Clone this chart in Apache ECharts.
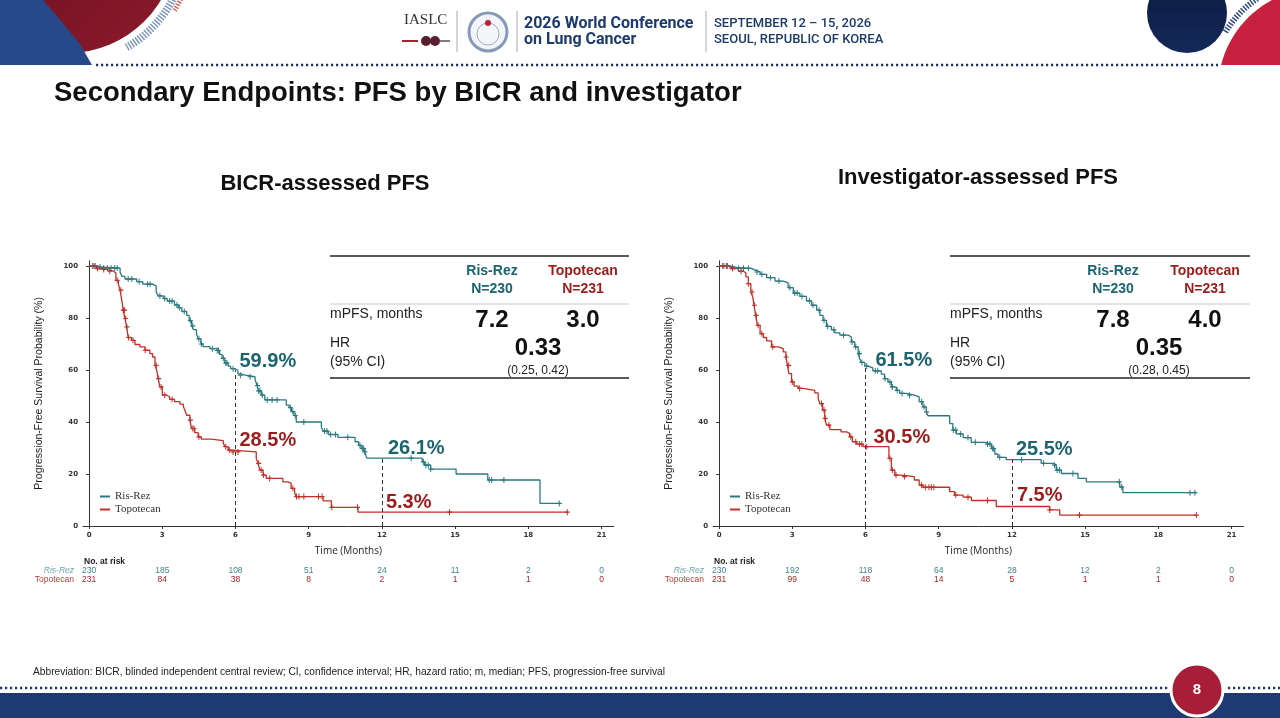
<!DOCTYPE html>
<html>
<head>
<meta charset="utf-8">
<script src="https://cdn.jsdelivr.net/npm/echarts@6/dist/echarts.min.js"></script>
<style>
html, body { margin: 0; padding: 0; background: #fff; }
#main { width: 1280px; height: 718px; }
</style>
</head>
<body>
<div id="main"></div>
<script>
// ---- data ----
var timeTicks = [0, 3, 6, 9, 12, 15, 18, 21];
var survTicks = [0, 20, 40, 60, 80, 100];

// Kaplan-Meier steps [month, PFS %], BICR
var bicrRis = [
  [0, 100], [0.3, 99.6], [0.55, 99.2], [1.27, 97.5], [1.35, 96], [1.47, 95], [1.95, 94], [2.2, 93],
  [2.6, 92.3], [2.75, 90], [2.83, 88.5], [3.05, 87.5], [3.2, 86.5], [3.5, 85], [3.65, 84], [3.8, 82.5],
  [4.0, 81], [4.1, 79], [4.2, 77], [4.28, 75.5], [4.4, 74], [4.47, 72], [4.58, 70], [4.67, 69],
  [4.95, 68.2], [5.2, 67.5], [5.35, 66], [5.45, 64.5], [5.56, 62.7], [5.7, 61.5], [5.8, 60.5], [5.95, 59.9],
  [6.1, 58.5], [6.2, 58], [6.4, 57.4], [6.8, 56.5], [6.88, 54], [6.95, 52], [7.06, 50.3], [7.2, 48.5],
  [8.08, 46.5], [8.2, 45.5], [8.3, 44], [8.4, 42.5], [8.49, 40], [9.52, 38], [9.6, 36.5], [9.8, 35.2],
  [10.2, 34.1], [10.9, 32.4], [11.05, 31], [11.15, 29.8], [11.3, 28.5], [11.38, 26.1], [13.65, 24.7],
  [13.75, 23.4], [14.0, 21.9], [15.04, 20], [16.34, 17.7], [18.48, 8.7], [19.27, 8.7]
];
var bicrTopo = [
  [0, 100], [0.3, 99], [0.5, 98.7], [0.7, 98], [1.0, 97.3], [1.1, 94.5], [1.2, 93], [1.27, 90.7],
  [1.34, 86.8], [1.4, 83], [1.47, 79.8], [1.54, 76.6], [1.6, 72.5], [1.74, 71.4], [1.88, 69.8], [2.08, 68.9],
  [2.29, 67.6], [2.49, 66.3], [2.6, 65], [2.7, 61.8], [2.77, 59.9], [2.83, 56.7], [2.9, 53.5], [3.0, 50.3],
  [3.17, 49.7], [3.3, 48.7], [3.5, 47.8], [3.72, 46.9], [3.86, 46.1], [3.92, 44.6], [4.0, 42.6], [4.13, 40.7],
  [4.2, 37.5], [4.33, 35.9], [4.47, 34.3], [4.6, 33.4], [5.0, 32.8], [5.5, 31.8], [5.57, 30.5], [5.7, 29.2],
  [5.83, 28.5], [6.85, 26], [6.92, 24.1], [7.0, 21.5], [7.13, 19.6], [7.26, 18.3], [7.94, 17], [8.15, 16.4],
  [8.28, 14.5], [8.42, 12.8], [8.49, 11.3], [9.59, 9.7], [9.93, 7.2], [11.02, 5.3], [19.6, 5.3]
];
// investigator
var invRis = [
  [0, 100], [0.4, 99.5], [0.72, 99.1], [1.33, 98.4], [1.47, 97.7], [1.68, 96.8], [1.95, 95.5], [2.29, 94.2],
  [2.63, 93.5], [2.83, 91.7], [3.04, 89.6], [3.31, 88.3], [3.58, 86.6], [3.79, 84.9], [4.0, 83], [4.13, 81],
  [4.26, 79.1], [4.4, 76.8], [4.6, 75.5], [4.74, 74.3], [4.95, 73.4], [5.29, 72.7], [5.42, 70.8], [5.56, 68.9],
  [5.7, 66.3], [5.76, 64.4], [5.83, 62.9], [5.97, 61.5], [6.1, 60.8], [6.3, 59.7], [6.65, 58.4], [6.78, 56.7],
  [6.92, 55.4], [7.06, 53.5], [7.26, 52.2], [7.4, 51], [7.67, 50.3], [8.0, 49.7], [8.2, 47.8], [8.35, 45.8],
  [8.49, 43.9], [8.56, 42.4], [9.45, 39.4], [9.58, 36.9], [9.72, 35.4], [10.0, 34], [10.33, 32.2], [10.9, 31.5],
  [11.16, 29.8], [11.3, 27.7], [11.43, 26.4], [11.77, 25.5], [13.2, 24.1], [13.69, 23.4], [13.82, 21.5],
  [14.03, 20.2], [14.71, 18.3], [15.05, 17], [16.42, 15], [16.55, 12.8], [19.56, 12.8]
];
var invTopo = [
  [0, 100], [0.45, 99], [0.79, 98], [1.0, 97.3], [1.1, 95.8], [1.2, 93.2], [1.3, 90], [1.38, 88.1],
  [1.43, 84.9], [1.5, 81], [1.57, 77.2], [1.68, 74], [1.81, 72.5], [1.95, 71.2], [2.15, 68.9], [2.43, 68.2],
  [2.63, 67], [2.74, 65], [2.8, 61.8], [2.86, 58.6], [2.97, 55.4], [3.07, 53.8], [3.24, 52.9], [3.45, 52.2],
  [3.92, 51.2], [4.06, 49], [4.13, 47.1], [4.24, 44.6], [4.33, 41.4], [4.4, 38.8], [4.54, 37.1], [5.0, 36.2],
  [5.22, 35.6], [5.35, 34.3], [5.46, 32.4], [5.63, 31.5], [5.9, 30.5], [6.96, 26], [7.06, 21.5], [7.2, 19.6],
  [7.47, 19], [8.0, 17.7], [8.2, 15.7], [8.35, 14.9], [9.45, 13.2], [9.65, 11.9], [10.0, 11.1], [10.34, 9.8],
  [11.36, 7.5], [13.55, 6.2], [13.96, 4.2], [19.56, 4.2]
];

// censoring times (months)
var bicrRisCens = [0.15, 0.25, 0.45, 0.6, 0.75, 0.9, 1.05, 1.15, 1.6, 1.75, 2.05, 2.4, 2.5, 2.9, 3.1, 3.3, 3.4,
  3.6, 3.7, 3.9, 4.15, 4.25, 4.5, 4.6, 5.05, 5.25, 5.3, 5.5, 5.6, 5.65, 5.9, 6.2, 6.6, 6.9, 6.95, 7.0, 7.1, 7.3,
  7.5, 7.7, 8.25, 8.35, 8.45, 8.8, 9.65, 9.75, 9.9, 10.1, 10.6, 11.1, 11.2, 11.25, 11.3, 13.2, 13.7, 13.8, 13.9,
  14.0, 16.4, 16.5, 17.0, 19.27];
var bicrTopoCens = [0.2, 0.35, 0.6, 0.85, 1.15, 1.3, 1.4, 1.45, 1.5, 1.55, 1.62, 1.8, 2.3, 2.75, 2.85, 2.95, 3.1,
  3.4, 4.15, 4.25, 4.3, 4.5, 5.6, 5.75, 5.9, 6.1, 6.95, 7.05, 7.15, 7.4, 8.35, 8.5, 8.6, 8.8, 9.4, 9.55, 9.95,
  11.0, 14.77, 19.6];
var invRisCens = [0.2, 0.35, 0.55, 0.8, 1.0, 1.2, 1.55, 1.75, 2.1, 2.45, 2.9, 3.1, 3.2, 3.4, 3.7, 3.85, 4.1, 4.3,
  4.45, 4.7, 5.1, 5.45, 5.6, 5.75, 5.85, 6.05, 6.4, 6.5, 6.8, 7.0, 7.1, 7.3, 7.5, 7.8, 8.3, 8.4, 8.5, 9.6, 9.7,
  9.9, 10.2, 10.5, 11.0, 11.1, 11.2, 11.25, 11.5, 12.4, 13.3, 13.75, 13.85, 13.95, 14.5, 16.4, 16.5, 19.3, 19.5];
var invTopoCens = [0.15, 0.3, 0.55, 0.9, 1.2, 1.35, 1.45, 1.52, 1.6, 1.75, 2.2, 2.75, 2.85, 3.0, 3.3, 4.2, 4.3,
  4.35, 4.5, 5.4, 5.6, 5.75, 5.85, 6.05, 7.0, 7.1, 7.25, 7.6, 8.3, 8.45, 8.6, 8.7, 8.8, 9.7, 10.2, 11.0, 13.55,
  14.77, 19.56];

// landmark rates [month, %]: Ris-Rez at 6, Topotecan at 6, Ris-Rez at 12, Topotecan at 12
var bicrLandmarks = [[6, 59.9], [6, 28.5], [12, 26.1], [12, 5.3]];
var invLandmarks = [[6, 61.5], [6, 30.5], [12, 25.5], [12, 7.5]];

// numbers at risk at timeTicks
var bicrRiskRis = [230, 185, 108, 51, 24, 11, 2, 0];
var bicrRiskTopo = [231, 84, 38, 8, 2, 1, 1, 0];
var invRiskRis = [230, 192, 118, 64, 28, 12, 2, 0];
var invRiskTopo = [231, 99, 48, 14, 5, 1, 1, 0];

var armNames = ['Ris-Rez', 'Topotecan'];
var armN = ['N=230', 'N=231'];
var mpfs = [['7.2', '3.0'], ['7.8', '4.0']];
var hr = ['0.33', '0.35'];
var hrCi = ['(0.25, 0.42)', '(0.28, 0.45)'];
var panelTitles = ['BICR-assessed PFS', 'Investigator-assessed PFS'];

// ---- styles ----
var TEAL = '#2b7a80', TEAL_TXT = '#1b6470', RED = '#c23028', RED_TXT = '#9e1b1b', NAVY = '#1d3a6e';
var SANS = 'Liberation Sans, Arial, sans-serif';
var NARROW = 'Liberation Sans Narrow, Liberation Sans, sans-serif';
var labelOffsets = [[[4, -9], [4, -11], [6, -10], [4, -10]], [[10, -6], [8, -9], [4, -10], [5, -11]]];
var gridLefts = [83, 713];

function stepAt(curve, t) {
  var v = curve[0][1];
  for (var i = 0; i < curve.length; i++) { if (curve[i][0] <= t) v = curve[i][1]; }
  return v;
}
function censorPoints(curve, times) {
  return times.map(function (t) { return [t, stepAt(curve, t)]; });
}

var chart = echarts.init(document.getElementById('main'));

var plusPath = 'path://M4,0h2v4h4v2h-4v4h-2v-4h-4v-2h4z';
var series = [];
var panels = [
  { ris: bicrRis, topo: bicrTopo, rc: bicrRisCens, tc: bicrTopoCens, lm: bicrLandmarks },
  { ris: invRis, topo: invTopo, rc: invRisCens, tc: invTopoCens, lm: invLandmarks }
];
panels.forEach(function (p, g) {
  var lineDefs = [[armNames[0], p.ris, TEAL], [armNames[1], p.topo, RED]];
  lineDefs.forEach(function (d, k) {
    var s = {
      name: d[0], type: 'line', step: 'end', xAxisIndex: g, yAxisIndex: g,
      data: d[1], symbol: 'none', lineStyle: { color: d[2], width: 1.3 }, itemStyle: { color: d[2] },
      z: 3
    };
    if (k === 0) {
      s.markLine = {
        silent: true, symbol: ['none', 'none'], animation: false,
        lineStyle: { color: '#333', width: 1, type: [4, 3] }, label: { show: false },
        data: [[{ coord: [p.lm[0][0], 0] }, { coord: p.lm[0] }], [{ coord: [p.lm[2][0], 0] }, { coord: p.lm[2] }]]
      };
    }
    series.push(s);
  });
  series.push({
    name: 'cens-ris-' + g, type: 'scatter', xAxisIndex: g, yAxisIndex: g, symbol: plusPath, symbolSize: [5, 6],
    data: censorPoints(p.ris, p.rc), itemStyle: { color: TEAL, opacity: 1 }, z: 4, silent: true
  });
  series.push({
    name: 'cens-topo-' + g, type: 'scatter', xAxisIndex: g, yAxisIndex: g, symbol: plusPath, symbolSize: [5, 6],
    data: censorPoints(p.topo, p.tc), itemStyle: { color: RED, opacity: 1 }, z: 4, silent: true
  });
  series.push({
    name: 'landmarks-' + g, type: 'scatter', xAxisIndex: g, yAxisIndex: g, symbolSize: 0, z: 5, silent: true,
    itemStyle: { opacity: 1 },
    data: p.lm.map(function (v, i) {
      return {
        value: v,
        label: {
          show: true, position: 'right', distance: 0, offset: labelOffsets[g][i],
          formatter: v[1].toFixed(1) + '%', color: i % 2 === 0 ? TEAL_TXT : RED_TXT,
          fontFamily: SANS, fontWeight: 'bold', fontSize: 20
        }
      };
    })
  });
});

function xAxisFor(g) {
  return {
    type: 'value', gridIndex: g, min: -0.25, max: 21.5,
    name: 'Time (Months)', nameLocation: 'middle', nameGap: 20,
    nameTextStyle: { fontFamily: 'Open Sans, ' + SANS, fontSize: 10, color: '#222' },
    axisLine: { lineStyle: { color: '#333', width: 1 } },
    axisTick: { length: 3, lineStyle: { color: '#333' }, customValues: timeTicks },
    axisLabel: { customValues: timeTicks, fontFamily: 'DejaVu Sans', fontWeight: 'bold', fontSize: 7, color: '#333', margin: 6 },
    splitLine: { show: false }
  };
}
function yAxisFor(g) {
  return {
    type: 'value', gridIndex: g, min: 0, max: 102,
    name: 'Progression-Free Survival Probability (%)', nameLocation: 'middle', nameGap: 38,
    nameTextStyle: { fontFamily: SANS, fontSize: 10.5, color: '#222' },
    axisLine: { show: true, lineStyle: { color: '#333', width: 1 } },
    axisTick: { show: true, length: 3, lineStyle: { color: '#333' }, customValues: survTicks },
    axisLabel: { customValues: survTicks, fontFamily: 'DejaVu Sans', fontWeight: 'bold', fontSize: 7, color: '#333', margin: 5 },
    splitLine: { show: false }
  };
}
function legendFor(left) {
  return {
    left: left, top: 486, orient: 'vertical', data: armNames, icon: 'rect', itemWidth: 10, itemHeight: 2,
    itemGap: 2, selectedMode: false, textStyle: { fontFamily: 'Liberation Serif, serif', fontSize: 11, color: '#333' }
  };
}

chart.setOption({
  animation: false,
  backgroundColor: '#fff',
  grid: gridLefts.map(function (l) { return { left: l, top: 260.8, width: 530.7, height: 265.2 }; }),
  xAxis: [xAxisFor(0), xAxisFor(1)],
  yAxis: [yAxisFor(0), yAxisFor(1)],
  legend: [legendFor(95), legendFor(725)],
  series: series
});

// ---- slide decoration, titles, stats tables, risk table ----
var gfx = [];
function txt(x, y, s, o) {
  o = o || {};
  gfx.push({
    type: 'text', x: x, y: y, z: 10, silent: true,
    style: {
      text: s, fill: o.color || '#111', fontFamily: o.family || SANS, fontSize: o.size || 12,
      fontWeight: o.weight || 'normal', fontStyle: o.style || 'normal',
      align: o.align || 'left', verticalAlign: 'middle', textAlign: o.align || 'left', textVerticalAlign: 'middle'
    }
  });
}
function line(x1, y1, x2, y2, color, w, dash) {
  gfx.push({ type: 'line', z: 10, silent: true, shape: { x1: x1, y1: y1, x2: x2, y2: y2 },
    style: { stroke: color, lineWidth: w, lineDash: dash || null } });
}

// header left
gfx.push({ type: 'circle', shape: { cx: 68, cy: -55, r: 108 }, style: { fill: new echarts.graphic.LinearGradient(0, 0, 1, 1, [{ offset: 0, color: '#5e0d1c' }, { offset: 1, color: '#8d1a2c' }]) }, silent: true });
gfx.push({ type: 'arc', shape: { cx: 68, cy: -55, r: 118, startAngle: 0.3, endAngle: 1.05 }, style: { stroke: '#7f97bd', lineWidth: 8, lineDash: [1.5, 1.5], fill: null }, silent: true });
gfx.push({ type: 'arc', shape: { cx: 68, cy: -55, r: 125, startAngle: 0.3, endAngle: 0.55 }, style: { stroke: '#c9645c', lineWidth: 5, lineDash: [1.5, 1.5], fill: null }, silent: true });
gfx.push({ type: 'polygon', shape: { points: [[0, 0], [43, 0], [62, 22], [80, 44], [92, 65], [0, 65]] }, style: { fill: '#27498a' }, silent: true });
// header right
gfx.push({ type: 'circle', shape: { cx: 1187, cy: 13, r: 40 }, style: { fill: new echarts.graphic.LinearGradient(0, 0, 0, 1, [{ offset: 0, color: '#0b1a3e' }, { offset: 1, color: '#14295a' }]) }, silent: true });
var redPts = [];
for (var a = 0.2476; a <= 1.084; a += 0.04) { redPts.push([1320 - 102 * Math.cos(a), 90 - 102 * Math.sin(a)]); }
redPts.push([1272, 0], [1280, 0], [1280, 65]);
gfx.push({ type: 'polygon', shape: { points: redPts }, style: { fill: '#c8203f' }, silent: true });
gfx.push({ type: 'arc', shape: { cx: 1320, cy: 90, r: 111, startAngle: Math.PI + 0.55, endAngle: Math.PI + 0.98 }, style: { stroke: '#2f4a7e', lineWidth: 6, lineDash: [1.5, 1.5], fill: null }, silent: true });
line(96, 65, 1218, 65, '#1d3567', 2.4, [2.2, 2.8]);

// logos
txt(404, 20, 'IASLC', { family: 'Liberation Serif, serif', size: 15, color: '#333' });
line(402, 41, 418, 41, '#b0202c', 2);
gfx.push({ type: 'circle', shape: { cx: 426, cy: 41, r: 5 }, style: { fill: '#5a1e2e' }, silent: true });
gfx.push({ type: 'circle', shape: { cx: 435, cy: 41, r: 5 }, style: { fill: '#5a1e2e' }, silent: true });
line(440, 41, 450, 41, '#555', 1.5);
line(457, 11, 457, 52, '#aaa', 1);
gfx.push({ type: 'circle', shape: { cx: 488, cy: 32, r: 19 }, style: { fill: '#f3f5f8', stroke: '#8799b8', lineWidth: 3 }, silent: true });
gfx.push({ type: 'circle', shape: { cx: 488, cy: 34, r: 11 }, style: { fill: 'none', stroke: '#9cabc6', lineWidth: 1 }, silent: true });
gfx.push({ type: 'circle', shape: { cx: 488, cy: 23, r: 3 }, style: { fill: '#c01c32' }, silent: true });
line(517, 11, 517, 52, '#aaa', 1);
txt(524, 24, '2026 World Conference', { family: 'Roboto, sans-serif', size: 16, weight: 'bold', color: NAVY });
txt(524, 40, 'on Lung Cancer', { family: 'Roboto, sans-serif', size: 16, weight: 'bold', color: NAVY });
line(706, 11, 706, 52, '#aaa', 1);
txt(714, 24, 'SEPTEMBER 12 – 15, 2026', { family: 'Roboto, sans-serif', size: 13, weight: 500, color: NAVY });
txt(714, 40, 'SEOUL, REPUBLIC OF KOREA', { family: 'Roboto, sans-serif', size: 13, weight: 500, color: NAVY });

// titles
txt(54, 93, 'Secondary Endpoints: PFS by BICR and investigator', { size: 27.5, weight: 'bold', color: '#111' });
txt(325, 184, panelTitles[0], { size: 22, weight: 'bold', align: 'center' });
txt(978, 178, panelTitles[1], { size: 22, weight: 'bold', align: 'center' });

// stats tables
[[330, 629, 492, 583, 538], [950, 1250, 1113, 1205, 1159]].forEach(function (c, g) {
  line(c[0], 256, c[1], 256, '#222', 1.5);
  txt(c[2], 271, armNames[0], { size: 14, weight: 'bold', color: TEAL_TXT, align: 'center' });
  txt(c[2], 289, armN[0], { size: 14, weight: 'bold', color: TEAL_TXT, align: 'center' });
  txt(c[3], 271, armNames[1], { size: 14, weight: 'bold', color: RED_TXT, align: 'center' });
  txt(c[3], 289, armN[1], { size: 14, weight: 'bold', color: RED_TXT, align: 'center' });
  line(c[0], 304, c[1], 304, '#c8c8c8', 1);
  txt(c[0], 314, 'mPFS, months', { size: 14, color: '#222' });
  txt(c[2], 320, mpfs[g][0], { size: 24, weight: 'bold', align: 'center' });
  txt(c[3], 320, mpfs[g][1], { size: 24, weight: 'bold', align: 'center' });
  txt(c[0], 343, 'HR', { size: 14, color: '#222' });
  txt(c[0], 362, '(95% CI)', { size: 14, color: '#222' });
  txt(c[4], 348, hr[g], { size: 24, weight: 'bold', align: 'center' });
  txt(c[4], 371, hrCi[g], { size: 12, color: '#222', align: 'center' });
  line(c[0], 378, c[1], 378, '#222', 1.5);
});

// numbers at risk
[[bicrRiskRis, bicrRiskTopo], [invRiskRis, invRiskTopo]].forEach(function (rows, g) {
  var x0 = gridLefts[g];
  txt(x0 + 1, 562, 'No. at risk', { family: NARROW, size: 8.5, weight: 'bold', color: '#222' });
  txt(x0 - 9, 571, armNames[0], { family: NARROW, size: 8.5, style: 'italic', color: '#6fa7b0', align: 'right' });
  txt(x0 - 9, 580, armNames[1], { family: NARROW, size: 8.5, color: '#b0403c', align: 'right' });
  timeTicks.forEach(function (t, i) {
    var px = chart.convertToPixel({ gridIndex: g }, [t, 0])[0];
    txt(px, 571, String(rows[0][i]), { family: NARROW, size: 8.5, color: '#3d8490', align: 'center' });
    txt(px, 580, String(rows[1][i]), { family: NARROW, size: 8.5, color: '#a82828', align: 'center' });
  });
});

// footer
txt(33, 672, 'Abbreviation: BICR, blinded independent central review; CI, confidence interval; HR, hazard ratio; m, median; PFS, progression-free survival',
  { family: NARROW, size: 10.2, color: '#222' });
line(0, 688, 1168, 688, '#1d3567', 2.4, [2.2, 2.8]);
line(1228, 688, 1280, 688, '#1d3567', 2.4, [2.2, 2.8]);
gfx.push({ type: 'rect', shape: { x: 0, y: 693, width: 1280, height: 25 }, style: { fill: '#1e3a72' }, silent: true });
gfx.push({ type: 'circle', z: 11, shape: { cx: 1197, cy: 690, r: 26 }, style: { fill: '#a81d38', stroke: '#fff', lineWidth: 3 }, silent: true });
gfx.push({ type: 'text', z: 12, x: 1197, y: 690, silent: true, style: { text: '8', fill: '#fff', fontFamily: SANS, fontSize: 15, fontWeight: 'bold', align: 'center', verticalAlign: 'middle', textAlign: 'center', textVerticalAlign: 'middle' } });

chart.setOption({ graphic: { elements: gfx } });
</script>
</body>
</html>
